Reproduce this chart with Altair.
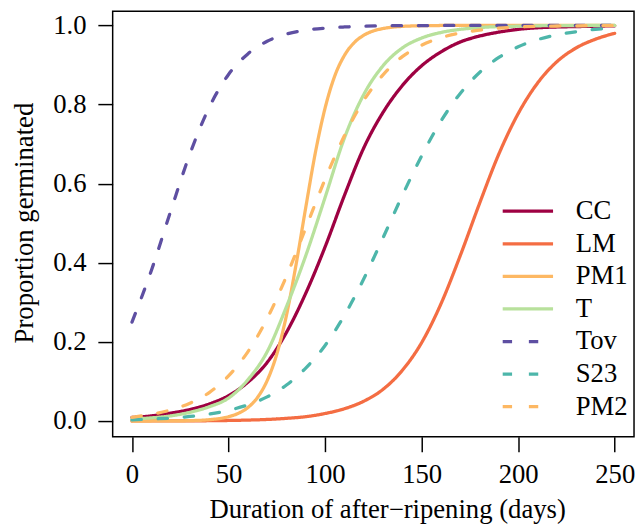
import altair as alt
import pandas as pd

days = [0, 10, 20, 30, 40, 50, 60, 70, 80, 90, 100, 110, 120, 130, 140, 150,
        160, 170, 180, 190, 200, 210, 220, 230, 240, 250]

cc = [0.009, 0.013, 0.020, 0.029, 0.043, 0.064, 0.098, 0.148, 0.224, 0.323, 0.440,
      0.570, 0.690, 0.780, 0.848, 0.898, 0.933, 0.958, 0.973, 0.983, 0.990, 0.994,
      0.996, 0.997, 0.998, 0.999]
lm = [0.0001, 0.0002, 0.0003, 0.0005, 0.0008, 0.0014, 0.0024, 0.004, 0.0068, 0.011,
      0.019, 0.031, 0.050, 0.080, 0.128, 0.198, 0.296, 0.418, 0.550, 0.675, 0.777,
      0.854, 0.908, 0.943, 0.965, 0.980]
# PM1 is steep, so it is read at a finer step
pm1_days = [0, 10, 20, 30, 40, 50, 55, 60, 65, 70, 75, 80, 85, 90, 95, 100, 105, 110,
            115, 120, 125, 130, 135, 140, 150, 160, 170, 180, 200, 250]
pm1 = [0.0, 0.0001, 0.0003, 0.001, 0.0034, 0.0108, 0.0193, 0.034, 0.0595, 0.102, 0.169,
       0.267, 0.396, 0.540, 0.679, 0.791, 0.872, 0.924, 0.956, 0.975, 0.986, 0.992,
       0.9956, 0.9975, 0.9992, 0.9998, 1.0, 1.0, 1.0, 1.0]
t_ = [0.005, 0.008, 0.013, 0.022, 0.036, 0.058, 0.104, 0.175, 0.289, 0.418, 0.565,
      0.715, 0.825, 0.898, 0.943, 0.968, 0.982, 0.990, 0.9945, 0.997, 0.998, 0.999,
      0.9995, 0.9997, 0.9998, 0.9999]
tov = [0.250, 0.380, 0.530, 0.675, 0.793, 0.876, 0.928, 0.960, 0.978, 0.988, 0.993,
       0.996, 0.998, 0.999, 0.9994, 0.9997, 0.9998, 0.9999, 1.0, 1.0, 1.0, 1.0, 1.0,
       1.0, 1.0, 1.0]
s23 = [0.003, 0.005, 0.0075, 0.0115, 0.0176, 0.027, 0.041, 0.061, 0.091, 0.134, 0.191,
       0.267, 0.359, 0.463, 0.570, 0.670, 0.758, 0.828, 0.881, 0.919, 0.946, 0.964,
       0.976, 0.984, 0.990, 0.994]
pm2 = [0.0095, 0.017, 0.028, 0.045, 0.072, 0.114, 0.175, 0.259, 0.366, 0.488, 0.611,
       0.721, 0.810, 0.875, 0.921, 0.950, 0.969, 0.981, 0.988, 0.993, 0.996, 0.9975,
       0.9985, 0.999, 0.9994, 0.9996]

names = ["CC", "LM", "PM1", "T", "Tov", "S23", "PM2"]
series_days = [days, days, pm1_days, days, days, days, days]
series = [cc, lm, pm1, t_, tov, s23, pm2]
colors = ["#9E0142", "#F46D43", "#FDB863", "#B8E19C", "#5E4FA2", "#4DB6AA", "#FDB863"]
dashes = [[1, 0], [1, 0], [1, 0], [1, 0], [9.5, 17], [9.5, 17], [9.5, 17]]

x_ticks = [0, 50, 100, 150, 200, 250]
y_ticks = [0.0, 0.2, 0.4, 0.6, 0.8, 1.0]

rows = []
for n, dd, vals in zip(names, series_days, series):
    for d, v in zip(dd, vals):
        rows.append({"series": n, "day": d, "p": v})
df = pd.DataFrame(rows)

FONT = "Liberation Serif"

legend = alt.Legend(
    title=None, orient="none", legendX=393, legendY=189,
    symbolType="stroke", symbolSize=2601, symbolStrokeWidth=3.3,
    labelFont=FONT, labelFontSize=27, labelColor="black", labelOffset=21,
    rowPadding=5, clipHeight=27, padding=0,
)

base = alt.Chart(df).mark_line(
    strokeWidth=3.3, strokeCap="round", interpolate="monotone", clip=True
).encode(
    x=alt.X("day:Q",
            scale=alt.Scale(domain=[-10, 260], nice=False, zero=False),
            axis=alt.Axis(values=x_ticks, title="Duration of after−ripening (days)",
                          labelBaseline="alphabetic", labelPadding=31,
                          titleBaseline="alphabetic", titleAlign="center",
                          titleX=278, titleY=82, titleAnchor="start",
                          labelFlush=False, labelOverlap=False,
                          labelFont=FONT, titleFont=FONT)),
    y=alt.Y("p:Q",
            scale=alt.Scale(domain=[-0.04, 1.0357], nice=False, zero=False),
            axis=alt.Axis(values=y_ticks, format=".1f", title="Proportion germinated",
                          labelPadding=12, titleBaseline="alphabetic",
                          titleAlign="center", titleAngle=270, titleX=-81, titleY=214,
                          titleAnchor="start",
                          labelFlush=False, labelOverlap=False,
                          labelFont=FONT, titleFont=FONT)),
    color=alt.Color("series:N", scale=alt.Scale(domain=names, range=colors), legend=legend),
    strokeDash=alt.StrokeDash("series:N", scale=alt.Scale(domain=names, range=dashes),
                              legend=legend),
)

layers = [base.transform_filter(alt.datum.series == n) for n in names]

chart = alt.layer(*layers).properties(
    width=528, height=431,
    autosize=alt.AutoSizeParams(type="none"),
    padding={"left": 106, "top": 0, "right": 2, "bottom": 91},
).configure(
    font=FONT
).configure_view(
    stroke="black", strokeWidth=1.5
).configure_axis(
    grid=False, domain=False, tickSize=15, tickWidth=1.5, tickColor="black",
    labelFont=FONT, labelFontSize=27, labelColor="black",
    titleFont=FONT, titleFontSize=27, titleFontWeight="normal", titleColor="black",
).configure_legend(
    labelFont=FONT
)

chart.save("out.html", embed_options={"renderer": "svg", "actions": False})
